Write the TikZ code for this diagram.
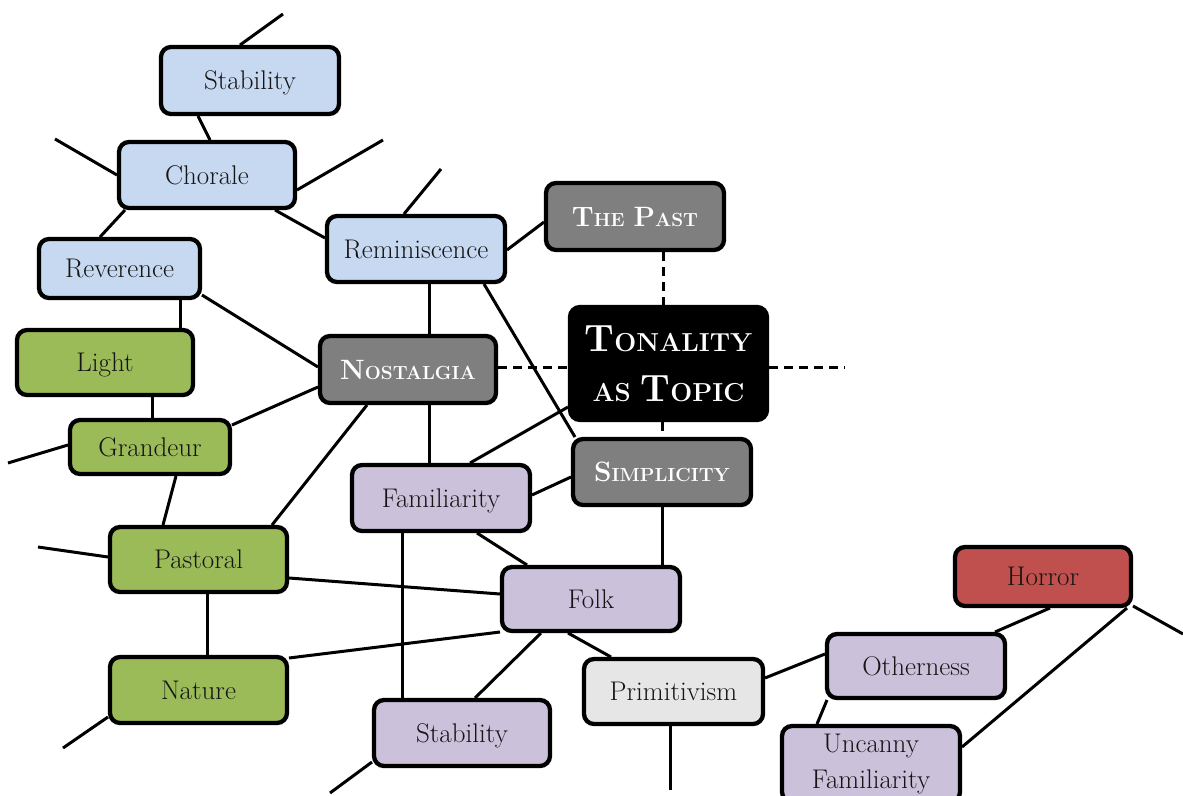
\documentclass[tikz,border=0pt]{standalone}
\usepackage{fontspec}
\pgfdeclarelayer{paper}
\pgfdeclarelayer{links}
\pgfsetlayers{paper,links,main}

\definecolor{fillblue}{HTML}{C6D9F1}
\definecolor{fillgreen}{HTML}{9BBB59}
\definecolor{fillgray}{HTML}{7F7F7F}
\definecolor{fillpurple}{HTML}{CCC1DA}
\definecolor{filllight}{HTML}{E6E6E6}
\definecolor{fillred}{HTML}{C0504D}
\definecolor{inkdark}{HTML}{151515}

% hand-made small capitals (bold), two sizes
\newcommand\capsmid[2]{{\fontsize{28}{30}\selectfont #1}{\fontsize{19}{22}\selectfont #2}}
\newcommand\capsbig[2]{{\fontsize{38}{40}\selectfont #1}{\fontsize{26}{28}\selectfont #2}}

\tikzset{
  nodebox/.style={draw=black, line width=4.3pt, rounded corners=10pt, inner sep=0pt,
    minimum width=178pt, minimum height=66pt, text=inkdark,
    font=\fontsize{27}{36}\selectfont},
  oneline/.style={text height=18.4pt, text depth=0pt},
  bluebox/.style={nodebox, oneline, fill=fillblue},
  greenbox/.style={nodebox, oneline, fill=fillgreen},
  purplebox/.style={nodebox, oneline, fill=fillpurple},
  lightbox/.style={nodebox, oneline, fill=filllight},
  redbox/.style={nodebox, oneline, fill=fillred},
  graybox/.style={nodebox, fill=fillgray, text=white, text height=19pt, text depth=0pt,
    font=\bfseries\fontsize{24}{30}\selectfont},
  link/.style={draw=black, line width=3pt},
  dashlink/.style={link, dash pattern=on 9pt off 6pt},
}

\begin{document}
\begin{tikzpicture}[x=1pt,y=-1pt]
\useasboundingbox (0,0) rectangle (1183,795);
\begin{pgfonlayer}{paper}
  \fill[white] (0,0) rectangle (1183,795);
\end{pgfonlayer}

% ---- concept boxes ----
\node[bluebox, minimum height=67pt] (stabA) at (250,80.5) {Stability};
\node[bluebox, minimum width=176pt] (chorale) at (207,175) {Chorale};
\node[bluebox, minimum width=161pt, minimum height=59pt] (reverence) at (119.5,268.5) {Reverence};
\node[bluebox] (remi) at (416,249) {Reminiscence};
\node[graybox, minimum height=67pt] (past) at (635,216.5) {\capsmid{T}{HE} \capsmid{P}{AST}};
\node[nodebox, fill=black, text=white, minimum width=197pt, minimum height=113pt,
      align=center, font=\bfseries\fontsize{38}{50}\selectfont] (tonality) at (668.5,363.5)
      {\capsbig{T}{ONALITY}\\{\fontsize{26}{28}\selectfont AS }\capsbig{T}{OPIC}};
\node[graybox, minimum width=176pt, minimum height=67pt] (nostalgia) at (408,369.5) {\capsmid{N}{OSTALGIA}};
\node[greenbox, minimum width=176pt, minimum height=65pt] (light) at (105,362.5) {Light};
\node[greenbox, minimum width=160pt, minimum height=54pt] (grandeur) at (150,447) {Grandeur};
\node[greenbox, minimum width=177pt, minimum height=65pt] (pastoral) at (198.5,559.5) {Pastoral};
\node[greenbox, minimum width=177pt] (nature) at (198.5,690) {Nature};
\node[purplebox] (familiarity) at (441,498) {Familiarity};
\node[graybox] (simplicity) at (662,472) {\capsmid{S}{IMPLICITY}};
\node[purplebox, minimum height=64pt] (folk) at (591,599) {Folk};
\node[lightbox, minimum width=179pt, minimum height=65pt] (primitivism) at (673.5,691.5) {Primitivism};
\node[purplebox, minimum width=176pt] (stabB) at (462,733) {Stability};
\node[purplebox, minimum height=64pt] (otherness) at (916,666) {Otherness};
\node[nodebox, fill=fillpurple, minimum height=76pt, align=center] (uncanny) at (871,764)
      {Uncanny\\Familiarity};
\node[redbox, minimum width=176pt, minimum height=59pt] (horror) at (1043,576.5) {Horror};

% ---- loose ends ----
\coordinate (f1) at (283,14);
\coordinate (f2) at (55,139);
\coordinate (f3) at (383,140);
\coordinate (f4) at (441,169);
\coordinate (f5) at (8,463);
\coordinate (f6) at (845,367);
\coordinate (f7) at (38,547);
\coordinate (f8) at (63,748);
\coordinate (f9) at (670,790);
\coordinate (f10) at (330,793);
\coordinate (f11) at (1183,634);

% ---- connectors, drawn beneath the boxes ----
\begin{pgfonlayer}{links}
\draw[link] ([shift={(-10,-35.5)}]stabA.center) -- (f1);
\draw[link] ([shift={(-52,35.5)}]stabA.center) -- ([shift={(3,-35)}]chorale.center);
\draw[link] ([shift={(-90,0)}]chorale.center) -- (f2);
\draw[link] ([shift={(90,15)}]chorale.center) -- (f3);
\draw[link] ([shift={(-82,35)}]chorale.center) -- ([shift={(-19.5,-31.5)}]reverence.center);
\draw[link] ([shift={(68,35)}]chorale.center) -- ([shift={(-91,-11)}]remi.center);
\draw[link] ([shift={(-12,-35)}]remi.center) -- (f4);
\draw[link] ([shift={(91,1)}]remi.center) -- ([shift={(-91,5.5)}]past.center);
\draw[dashlink] ([shift={(28,35.5)}]past.center) -- ([shift={(-5.5,-58.5)}]tonality.center);
\draw[link] ([shift={(13,35)}]remi.center) -- ([shift={(21,-35.5)}]nostalgia.center);
\draw[link] ([shift={(68,35)}]remi.center) -- ([shift={(-87,-35)}]simplicity.center);
\draw[link] ([shift={(82.5,26.5)}]reverence.center) -- ([shift={(-90,-2.5)}]nostalgia.center);
\draw[link] ([shift={(60.5,31.5)}]reverence.center) -- ([shift={(75,-34.5)}]light.center);
\draw[link] ([shift={(47,34.5)}]light.center) -- ([shift={(2,-29)}]grandeur.center);
\draw[link] ([shift={(82,-22)}]grandeur.center) -- ([shift={(-90,17.5)}]nostalgia.center);
\draw[link] ([shift={(-82,-2)}]grandeur.center) -- (f5);
\draw[link] ([shift={(26,29)}]grandeur.center) -- ([shift={(-35.5,-34.5)}]pastoral.center);
\draw[link] ([shift={(-41,35.5)}]nostalgia.center) -- ([shift={(73.5,-34.5)}]pastoral.center);
\draw[dashlink] ([shift={(90,-2.5)}]nostalgia.center) -- ([shift={(-100.5,3.5)}]tonality.center);
\draw[dashlink] ([shift={(100.5,3.5)}]tonality.center) -- (f6);
\draw[link] ([shift={(21,35.5)}]nostalgia.center) -- ([shift={(-12,-35)}]familiarity.center);
\draw[link] ([shift={(-100.5,43.5)}]tonality.center) -- ([shift={(29,-35)}]familiarity.center);
\draw[dashlink] ([shift={(-6.5,58.5)}]tonality.center) -- ([shift={(0,-35)}]simplicity.center);
\draw[link] ([shift={(91,-3)}]familiarity.center) -- ([shift={(-91,5)}]simplicity.center);
\draw[link] ([shift={(0,35)}]simplicity.center) -- ([shift={(71,-34)}]folk.center);
\draw[link] ([shift={(36,35)}]familiarity.center) -- ([shift={(-64,-34)}]folk.center);
\draw[link] ([shift={(-39,35)}]familiarity.center) -- ([shift={(-60,-35)}]stabB.center);
\draw[link] ([shift={(-90.5,-2.5)}]pastoral.center) -- (f7);
\draw[link] ([shift={(90.5,18.5)}]pastoral.center) -- ([shift={(-91,-5)}]folk.center);
\draw[link] ([shift={(8.5,34.5)}]pastoral.center) -- ([shift={(8.5,-35)}]nature.center);
\draw[link] ([shift={(90.5,-32)}]nature.center) -- ([shift={(-91,33)}]folk.center);
\draw[link] ([shift={(-90.5,27)}]nature.center) -- (f8);
\draw[link] ([shift={(-50,34)}]folk.center) -- ([shift={(13,-35)}]stabB.center);
\draw[link] ([shift={(-23,34)}]folk.center) -- ([shift={(-62.5,-34.5)}]primitivism.center);
\draw[link] ([shift={(-3.5,34.5)}]primitivism.center) -- (f9);
\draw[link] ([shift={(91.5,-13.5)}]primitivism.center) -- ([shift={(-91,-12)}]otherness.center);
\draw[link] ([shift={(-90,29)}]stabB.center) -- (f10);
\draw[link] ([shift={(-89,34)}]otherness.center) -- ([shift={(-54,-40)}]uncanny.center);
\draw[link] ([shift={(7,31.5)}]horror.center) -- ([shift={(79,-34)}]otherness.center);
\draw[link] ([shift={(84,31.5)}]horror.center) -- ([shift={(91,-17)}]uncanny.center);
\draw[link] ([shift={(90,29.5)}]horror.center) -- (f11);
\end{pgfonlayer}
\end{tikzpicture}
\end{document}
